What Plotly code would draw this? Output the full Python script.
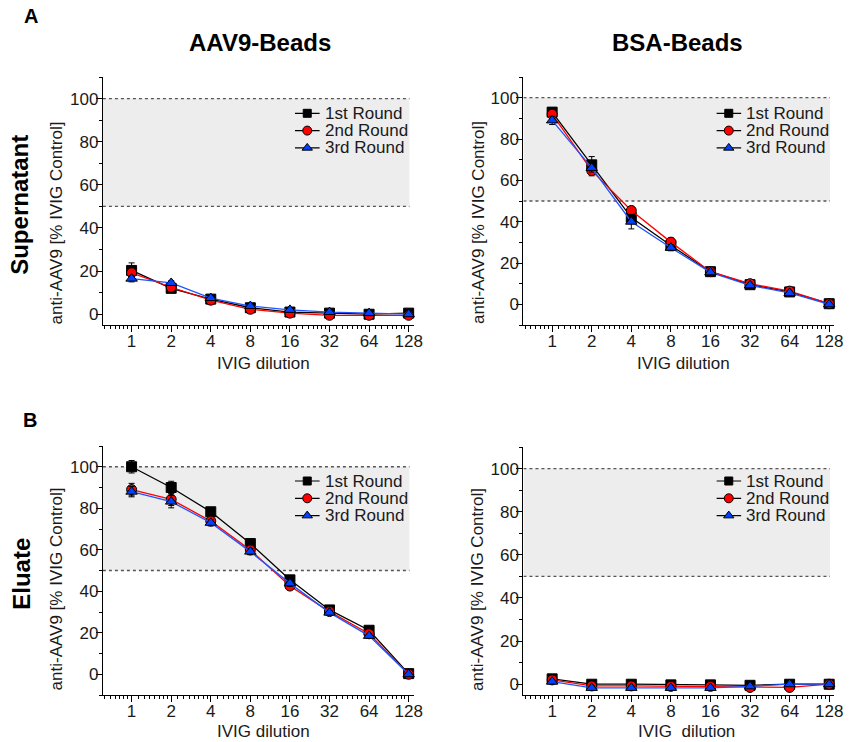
import math
import plotly.graph_objects as go

# ---------------- data ----------------
dilutions = [1, 2, 4, 8, 16, 32, 64, 128]
dilution_labels = ["1", "2", "4", "8", "16", "32", "64", "128"]
round_names = ["1st Round", "2nd Round", "3rd Round"]
y_tick_vals = [0, 20, 40, 60, 80, 100]
band_low, band_high = 50, 100

# Supernatant, AAV9-Beads
sup_aav9_r1 = [20.3, 12.0, 7.0, 3.0, 1.0, 0.5, 0.0, 0.5]
sup_aav9_r2 = [19.2, 12.5, 6.5, 2.3, 0.5, -0.5, -0.5, -0.5]
sup_aav9_r3 = [16.5, 14.5, 7.5, 3.8, 2.0, 1.0, 0.5, 0.0]
sup_aav9_e1 = [3.5, 1.0, 1.0, 1.0, 1.0, 1.0, 1.0, 0.5]
sup_aav9_e2 = [2.0, 1.0, 1.0, 1.0, 1.0, 1.0, 1.0, 0.5]
sup_aav9_e3 = [1.5, 1.0, 1.0, 1.0, 1.0, 1.0, 1.0, 0.5]

# Supernatant, BSA-Beads
sup_bsa_r1 = [93.0, 67.5, 42.0, 28.5, 15.8, 9.5, 6.0, 0.3]
sup_bsa_r2 = [92.0, 64.7, 45.4, 30.1, 15.8, 10.0, 6.4, 0.3]
sup_bsa_r3 = [89.0, 66.0, 40.0, 27.4, 15.5, 9.2, 5.5, 0.0]
sup_bsa_e1 = [2.0, 4.0, 3.0, 2.0, 1.5, 1.5, 1.0, 0.5]
sup_bsa_e2 = [2.5, 2.5, 2.0, 2.0, 1.5, 1.5, 1.5, 0.5]
sup_bsa_e3 = [2.0, 2.0, 3.5, 1.5, 1.5, 1.0, 1.0, 0.5]

# Eluate, AAV9-Beads
elu_aav9_r1 = [100.0, 90.0, 78.3, 63.0, 45.5, 31.0, 21.2, 0.3]
elu_aav9_r2 = [89.0, 84.3, 73.8, 59.9, 42.5, 30.2, 19.5, 0.0]
elu_aav9_r3 = [88.0, 83.2, 73.0, 59.1, 43.8, 29.7, 18.5, 0.0]
elu_aav9_e1 = [3.0, 3.0, 1.5, 1.5, 1.5, 1.0, 1.0, 0.5]
elu_aav9_e2 = [3.0, 3.0, 2.0, 2.0, 1.5, 1.5, 1.5, 1.0]
elu_aav9_e3 = [2.5, 3.0, 1.5, 1.5, 1.5, 1.0, 1.0, 0.5]

# Eluate, BSA-Beads
elu_bsa_r1 = [2.5, 0.0, 0.0, -0.3, -0.3, -0.5, 0.0, 0.0]
elu_bsa_r2 = [2.0, -0.8, -0.8, -1.0, -1.0, -1.5, -1.5, 0.0]
elu_bsa_r3 = [1.2, -1.7, -1.7, -1.7, -1.7, -1.0, 0.0, 0.0]
elu_bsa_e1 = [1.0, 1.0, 1.0, 1.0, 1.0, 1.0, 1.0, 0.5]
elu_bsa_e2 = [1.0, 1.0, 1.0, 1.0, 1.0, 1.0, 1.0, 0.5]
elu_bsa_e3 = [1.0, 1.0, 1.0, 1.0, 1.0, 1.0, 1.0, 0.5]

# ---------------- layout helpers ----------------
W, H = 857, 742
FONT = "Arial, Liberation Sans, Helvetica, sans-serif"


def fx(p):
    return p / W


def fy(p):
    return 1 - p / H


line_colors = ["#000000", "#ff0000", "#1f55ff"]
marker_colors = ["#000000", "#ff0000", "#0040ff"]
symbols = ["square", "circle", "triangle-up"]
marker_sizes = [10, 10, 10]

panels = [
    dict(n=1, box=(104, 418, 77, 325), yr=[-5, 110],
         series=[sup_aav9_r1, sup_aav9_r2, sup_aav9_r3], errs=[sup_aav9_e1, sup_aav9_e2, sup_aav9_e3],
         leg=(298, 113.3)),
    dict(n=2, box=(529, 843, 77, 325), yr=[-10, 110],
         series=[sup_bsa_r1, sup_bsa_r2, sup_bsa_r3], errs=[sup_bsa_e1, sup_bsa_e2, sup_bsa_e3],
         leg=(724, 113.3)),
    dict(n=3, box=(104, 418, 446, 695), yr=[-10, 110],
         series=[elu_aav9_r1, elu_aav9_r2, elu_aav9_r3], errs=[elu_aav9_e1, elu_aav9_e2, elu_aav9_e3],
         leg=(298, 481.0)),
    dict(n=4, box=(529, 843, 447, 695), yr=[-5, 110],
         series=[elu_bsa_r1, elu_bsa_r2, elu_bsa_r3], errs=[elu_bsa_e1, elu_bsa_e2, elu_bsa_e3],
         leg=(724, 481.0)),
]

x_lo = dilutions[0] * 2 ** -0.725
x_hi = dilutions[-1] * 2 ** 0.125
x_range = [math.log10(x_lo), math.log10(x_hi)]
band_x1 = dilutions[-1] * 2 ** 0.02
minor_x = []
for k in range(-1, 8):
    for j in range(1, 8):
        v = (2 ** k) * (1 + j / 8)
        if x_lo < v < x_hi:
            minor_x.append(v)

fig = go.Figure()
layout = dict(
    width=W, height=H, margin=dict(l=0, r=0, t=0, b=0),
    paper_bgcolor="white", plot_bgcolor="rgba(0,0,0,0)",
    showlegend=False, font=dict(family=FONT, color="#1a1a1a"),
)
shapes = []
annotations = []

ROW_S = 17.3
for p in panels:
    n = p["n"]
    xa = "x" if n == 1 else f"x{n}"
    ya = "y" if n == 1 else f"y{n}"
    xl, xr_, yt, yb = p["box"]
    layout["xaxis" if n == 1 else f"xaxis{n}"] = dict(
        domain=[fx(xl), fx(xr_)], anchor=ya, type="log", range=x_range,
        tickmode="array", tickvals=dilutions, ticktext=dilution_labels,
        ticks="outside", ticklen=6, tickwidth=1, tickcolor="black",
        showline=True, linecolor="black", linewidth=1.3, showgrid=False, zeroline=False,
        tickfont=dict(size=17, family=FONT, color="#1a1a1a"),
        ticklabelstandoff=-6,
        minor=dict(tickmode="array", tickvals=minor_x, ticks="outside", ticklen=3,
                   tickwidth=1, tickcolor="black", showgrid=False),
        fixedrange=True,
    )
    layout["yaxis" if n == 1 else f"yaxis{n}"] = dict(
        domain=[fy(yb), fy(yt)], anchor=xa, range=p["yr"],
        tickmode="array", tickvals=y_tick_vals,
        ticks="outside", ticklen=6, tickwidth=1, tickcolor="black",
        showline=True, linecolor="black", linewidth=1.3, showgrid=False, zeroline=False,
        tickfont=dict(size=17, family=FONT, color="#1a1a1a"),
        ticklabelstandoff=-6,
        minor=dict(tickmode="linear", tick0=0, dtick=10, ticks="outside", ticklen=3,
                   tickwidth=1, tickcolor="black", showgrid=False),
        fixedrange=True,
    )
    # shaded band + dotted borders
    shapes.append(dict(type="rect", xref=xa, yref=ya, x0=x_lo, x1=band_x1, y0=band_low, y1=band_high,
                       fillcolor="#ededed", line=dict(width=0), layer="below"))
    for yv in (band_low, band_high):
        shapes.append(dict(type="line", xref=xa, yref=ya, x0=x_lo, x1=band_x1, y0=yv, y1=yv,
                           line=dict(color="#555555", width=1.3, dash="dot"), layer="below"))
    # data traces
    for i in range(3):
        fig.add_trace(go.Scatter(
            x=dilutions, y=p["series"][i], xaxis=xa, yaxis=ya, mode="lines+markers",
            name=round_names[i], cliponaxis=False,
            line=dict(color=line_colors[i], width=1.3),
            marker=dict(symbol=symbols[i], size=marker_sizes[i], color=marker_colors[i],
                        line=dict(color="black", width=1)),
            error_y=dict(type="data", array=p["errs"][i], visible=True, color="black",
                         thickness=1, width=3),
        ))
    # custom legend on overlay axis
    lx, ly0 = p["leg"]
    k = 4 + n
    lxa, lya = f"x{k}", f"y{k}"
    layout[f"xaxis{k}"] = dict(domain=[fx(lx), fx(lx + 130)], anchor=lya, range=[0, 130],
                               visible=False, fixedrange=True)
    layout[f"yaxis{k}"] = dict(domain=[fy(ly0 + 2.5 * ROW_S), fy(ly0 - 0.5 * ROW_S)], anchor=lxa,
                               range=[2.5, -0.5], visible=False, fixedrange=True)
    for i in range(3):
        fig.add_trace(go.Scatter(x=[0, 25], y=[i, i], xaxis=lxa, yaxis=lya, mode="lines",
                                 line=dict(color="black", width=1.2), hoverinfo="skip"))
        fig.add_trace(go.Scatter(x=[12.5], y=[i], xaxis=lxa, yaxis=lya, mode="markers",
                                 marker=dict(symbol=symbols[i], size=[8, 9, 9][i], color=marker_colors[i],
                                             line=dict(color="black", width=1)),
                                 hoverinfo="skip"))
        annotations.append(dict(xref=lxa, yref=lya, x=28, y=i, text=round_names[i],
                                showarrow=False, xanchor="left", yanchor="middle",
                                font=dict(size=17, family=FONT, color="#1a1a1a")))


def ann(x, y, text, size, angle=0, bold=False):
    annotations.append(dict(xref="paper", yref="paper", x=fx(x), y=fy(y),
                            text=f"<b>{text}</b>" if bold else text, showarrow=False,
                            xanchor="center", yanchor="middle", textangle=angle,
                            font=dict(size=size, family=FONT, color="#1a1a1a" if not bold else "black")))


ann(263, 43, "AAV9-Beads", 24, bold=True)
ann(685, 43, "BSA-Beads", 24, bold=True)
ann(19, 205, "Supernatant", 24, angle=-90, bold=True)
ann(21, 574, "Eluate", 24, angle=-90, bold=True)
ann(31, 16, "A", 20, bold=True)
ann(30, 420, "B", 20, bold=True)
y_title = "anti-AAV9 [% IVIG Control]"
ann(57, 223, y_title, 17, angle=-90)
ann(483, 222, y_title, 17, angle=-90)
ann(57, 589, y_title, 17, angle=-90)
ann(482, 589, y_title, 17, angle=-90)
ann(266.5, 363, "IVIG dilution", 17)
ann(691, 363, "IVIG dilution", 17)
ann(266, 731, "IVIG dilution", 17)
ann(694, 731, "IVIG\u00a0 dilution", 17)

layout["shapes"] = shapes
layout["annotations"] = annotations
fig.update_layout(**layout)

fig.write_html("out.html", config={"displayModeBar": False},
               post_script="document.body.style.margin='0';document.body.style.overflow='hidden';")
